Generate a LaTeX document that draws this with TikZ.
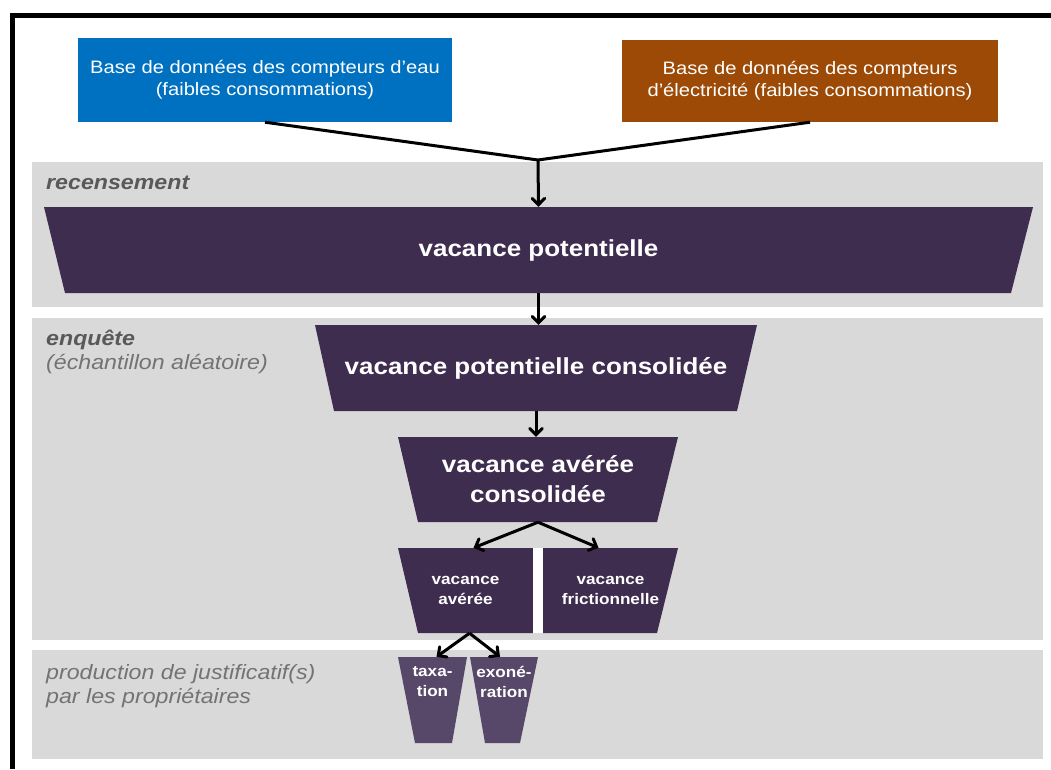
\documentclass[tikz,border=0pt]{standalone}
\usepackage{fontspec}
\setmainfont{Liberation Sans}[FakeStretch=1.12]
\usetikzlibrary{arrows}
\definecolor{bandgray}{RGB}{217,217,217}
\definecolor{vacpurple}{RGB}{63,45,80}
\definecolor{palepurple}{RGB}{87,71,105}
\definecolor{waterblue}{RGB}{0,112,192}
\definecolor{elecbrown}{RGB}{156,74,6}
\definecolor{labgray}{RGB}{89,89,89}
\definecolor{lightlab}{RGB}{115,115,115}

\tikzset{
  band/.style={fill=bandgray},
  dbbox/.style={fill=#1,text=white,align=center,inner sep=0,
    font=\fontsize{18}{22}\selectfont},
  funnel/.style n args={3}{inner sep=0,text=white,align=center,fill=bandgray,
    path picture={\fill[#3] (path picture bounding box.north west)
      -- (path picture bounding box.north east)
      -- ([xshift=-#2]path picture bounding box.south east)
      -- ([xshift=#1]path picture bounding box.south west) -- cycle;}},
  big/.style={font=\bfseries\fontsize{23.2}{30}\selectfont},
  small/.style={font=\bfseries\fontsize{15.3}{20}\selectfont},
  flow/.style={->,>=angle 90,line width=3pt},
  bandlab/.style={anchor=base west,inner sep=0,text=lightlab,
    font=\itshape\fontsize{20.7}{24}\selectfont}
}

\begin{document}
\begin{tikzpicture}[x=1pt,y=-1pt]
\useasboundingbox (0,0) rectangle (1051,769);

% frame and bands
\draw[line width=5pt] (12.5,769) -- (12.5,15.5) -- (1051,15.5);
\fill[band] (32,162) rectangle (1043,307);
\fill[band] (32,318) rectangle (1043,640);
\fill[band] (32,650) rectangle (1043,759);

\node[bandlab,text=labgray,font=\bfseries\itshape\fontsize{20.7}{24}\selectfont] (rec) at (46,189) {recensement};
\node[bandlab,text=labgray,font=\bfseries\itshape\fontsize{20.7}{24}\selectfont] (enq) at (46,345) {enquête};
\node[bandlab] (ech) at (46,369) {(échantillon aléatoire)};
\node[bandlab] (prod) at (46,679) {production de justificatif(s)};
\node[bandlab] (prop) at (46,703) {par les propriétaires};

% sources
\node[dbbox=waterblue,minimum width=374,minimum height=84] (water) at (265,80)
  {Base de données des compteurs d’eau\\(faibles consommations)};
\node[dbbox=elecbrown,minimum width=376,minimum height=82] (elec) at (810,81)
  {Base de données des compteurs\\d’électricité (faibles consommations)};

% funnel
\node[funnel={21}{22}{vacpurple},big,minimum width=989,minimum height=86] (pot) at (538.5,250) {vacance potentielle};
\node[funnel={19}{20}{vacpurple},big,minimum width=442,minimum height=86] (cons) at (536,368) {vacance potentielle consolidée};
\node[funnel={20}{21}{vacpurple},big,minimum width=280,minimum height=85] (avc) at (538,479.5) {vacance avérée\\consolidée};
\node[funnel={20}{0}{vacpurple},small,minimum width=135,minimum height=85] (av) at (465.5,590.5) {vacance\\avérée};
\node[funnel={0}{21}{vacpurple},small,minimum width=135,minimum height=85] (fr) at (610.5,590.5) {vacance\\frictionnelle};
\node[funnel={17}{15}{palepurple},small,minimum width=69,minimum height=86] (tax) at (432.5,700) {taxa-\\tion\\[17pt]~};
\node[funnel={15}{18}{palepurple},small,minimum width=68,minimum height=86] (exo) at (504,700) {exoné-\\ration\\[17pt]~};
\fill[white] (533,548) rectangle (543,633);

% connectors
\coordinate (join) at (538,160);
\draw[line width=3pt] (water.south) -- (join) -- (elec.south);
\draw[flow] (join) -- (pot.north);
\draw[flow] (pot.south) -- (pot.south |- cons.north);
\draw[flow] (cons.south) -- (cons.south |- avc.north);
\draw[flow] (avc.south) -- ([xshift=8]av.north);
\draw[flow] (avc.south) -- ([xshift=-12]fr.north);
\draw[flow] ([xshift=4]av.south) -- ([xshift=4]tax.north);
\draw[flow] ([xshift=4]av.south) -- ([xshift=-4]exo.north);

\end{tikzpicture}
\end{document}
